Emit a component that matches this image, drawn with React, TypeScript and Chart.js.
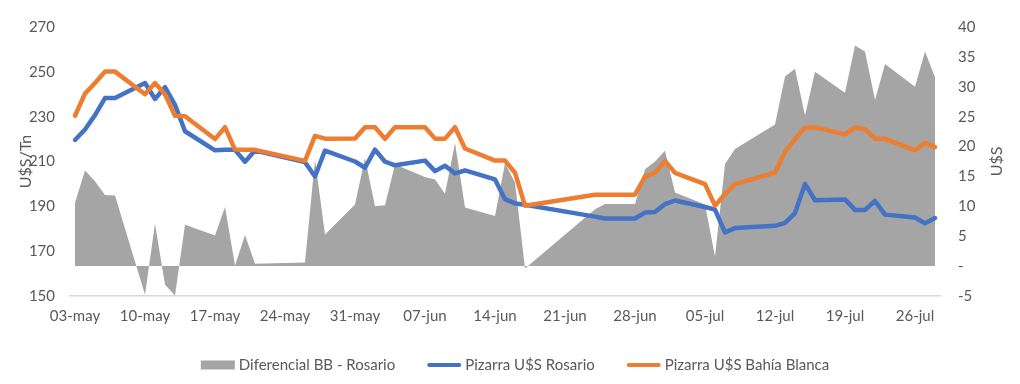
import { useEffect, useRef } from "react";
import { Chart, registerables } from "chart.js";

Chart.register(...registerables);

// Trading days (2021)
const DATES = [
  "2021-05-03", "2021-05-04", "2021-05-05", "2021-05-06", "2021-05-07",
  "2021-05-10", "2021-05-11", "2021-05-12", "2021-05-13", "2021-05-14",
  "2021-05-17", "2021-05-18", "2021-05-19", "2021-05-20", "2021-05-21",
  "2021-05-26", "2021-05-27", "2021-05-28",
  "2021-05-31", "2021-06-01", "2021-06-02", "2021-06-03", "2021-06-04",
  "2021-06-07", "2021-06-08", "2021-06-09", "2021-06-10", "2021-06-11",
  "2021-06-14", "2021-06-15", "2021-06-16", "2021-06-17",
  "2021-06-24", "2021-06-25",
  "2021-06-28", "2021-06-29", "2021-06-30", "2021-07-01", "2021-07-02",
  "2021-07-05", "2021-07-06", "2021-07-07", "2021-07-08",
  "2021-07-12", "2021-07-13", "2021-07-14", "2021-07-15", "2021-07-16",
  "2021-07-19", "2021-07-20", "2021-07-21", "2021-07-22", "2021-07-23",
  "2021-07-26", "2021-07-27", "2021-07-28",
];

const PIZARRA_ROSARIO = [
  219.6, 224.3, 230.7, 238.3, 238.3,
  245.0, 237.9, 243.2, 235.3, 223.5,
  215.0, 215.2, 215.2, 209.9, 214.9,
  209.7, 203.3, 214.9,
  210.0, 207.2, 215.3, 209.9, 208.3,
  210.4, 205.7, 208.1, 204.7, 206.0,
  202.0, 193.2, 191.3, 190.7,
  185.4, 184.6,
  184.6, 187.2, 187.5, 191.0, 192.6,
  189.7, 188.5, 178.4, 180.3,
  181.3, 182.6, 187.0, 200.0, 192.7,
  193.1, 188.4, 188.4, 192.4, 186.3,
  185.0, 182.4, 184.8,
];

const PIZARRA_BAHIA_BLANCA = [
  230.4, 240.3, 245.0, 250.1, 250.1,
  240.0, 245.0, 240.0, 230.4, 230.2,
  220.0, 225.3, 215.3, 215.2, 215.2,
  210.3, 221.4, 220.2,
  220.3, 225.3, 225.3, 220.1, 225.3,
  225.3, 220.2, 220.2, 225.3, 215.8,
  210.4, 210.4, 205.0, 190.3,
  195.2, 195.2,
  195.2, 203.3, 204.9, 210.3, 204.9,
  199.9, 190.3, 195.5, 199.9,
  205.0, 214.3, 220.0, 225.2, 225.2,
  222.1, 225.3, 224.3, 220.2, 220.1,
  215.0, 218.3, 216.4,
];

const DIFERENCIAL_BB_ROSARIO = [
  10.6, 16.0, 14.2, 11.9, 11.8,
  -4.8, 7.1, -3.1, -4.9, 6.9,
  5.1, 9.9, 0.1, 5.2, 0.4,
  0.6, 17.8, 5.3,
  10.3, 18.1, 10.0, 10.2, 17.0,
  14.9, 14.5, 12.1, 20.6, 9.8,
  8.4, 17.2, 14.0, -0.4,
  9.5, 10.4,
  10.4, 16.2, 17.5, 19.3, 12.3,
  10.3, 1.6, 17.1, 19.6,
  23.7, 31.7, 33.0, 25.2, 32.5,
  29.0, 36.9, 35.9, 27.8, 33.8,
  30.0, 35.9, 31.6,
];

const TICK_DATES = [
  "2021-05-03", "2021-05-10", "2021-05-17", "2021-05-24", "2021-05-31",
  "2021-06-07", "2021-06-14", "2021-06-21", "2021-06-28", "2021-07-05",
  "2021-07-12", "2021-07-19", "2021-07-26",
];
const TICK_LABELS = [
  "03-may", "10-may", "17-may", "24-may", "31-may",
  "07-jun", "14-jun", "21-jun", "28-jun", "05-jul",
  "12-jul", "19-jul", "26-jul",
];

const SERIES_NAMES = ["Diferencial BB - Rosario", "Pizarra U$S Rosario", "Pizarra U$S Bahía Blanca"];
const COLORS = { area: "#A5A5A5", rosario: "#4472C4", bahia: "#ED7D31", text: "#595959", axis: "#D9D9D9" };
const FONT_FAMILY = "Lato, 'Liberation Sans', sans-serif";
const FONT_SIZE = 15;
const TITLE_SIZE = 16;

const DAY = 86400000;
const dayIndex = (d: string) => Math.round((Date.parse(d) - Date.parse(DATES[0])) / DAY);
const points = (vals: number[]) => DATES.map((d, i) => ({ x: dayIndex(d), y: vals[i] }));

const overlayPlugin = {
  id: "overlay",
  afterDraw(chart: any) {
    const ctx = chart.ctx as CanvasRenderingContext2D;
    const area = chart.chartArea;
    ctx.save();
    ctx.font = `${TITLE_SIZE}px ${FONT_FAMILY}`;
    ctx.fillStyle = COLORS.text;
    ctx.textAlign = "center";
    ctx.textBaseline = "middle";
    const midY = (area.top + area.bottom) / 2;
    // axis titles
    ctx.save();
    ctx.translate(26, midY);
    ctx.rotate(-Math.PI / 2);
    ctx.fillText("U$S/Tn", 0, 0);
    ctx.restore();
    ctx.save();
    ctx.translate(997, midY);
    ctx.rotate(-Math.PI / 2);
    ctx.fillText("U$S", 0, 0);
    ctx.restore();

    // legend
    ctx.font = `${FONT_SIZE}px ${FONT_FAMILY}`;
    const swatch = 34;
    const gap = 4;
    const spacing = 32;
    const kinds = ["box", "line", "line"];
    const cols = [COLORS.area, COLORS.rosario, COLORS.bahia];
    const widths = SERIES_NAMES.map((n) => swatch + gap + ctx.measureText(n).width);
    const total = widths.reduce((a, b) => a + b, 0) + spacing * (widths.length - 1);
    let x = 515 - total / 2;
    const y = 365;
    ctx.textAlign = "left";
    SERIES_NAMES.forEach((name, i) => {
      if (kinds[i] === "box") {
        ctx.fillStyle = cols[i];
        ctx.fillRect(x, y - 4.5, swatch, 9);
      } else {
        ctx.strokeStyle = cols[i];
        ctx.lineWidth = 4;
        ctx.lineCap = "round";
        ctx.beginPath();
        ctx.moveTo(x + 2, y);
        ctx.lineTo(x + swatch - 2, y);
        ctx.stroke();
      }
      ctx.fillStyle = COLORS.text;
      ctx.fillText(name, x + swatch + gap, y);
      x += widths[i] + spacing;
    });
    ctx.restore();
  },
};

export default function App() {
  const ref = useRef<HTMLCanvasElement>(null);
  useEffect(() => {
    document.body.style.margin = "0";
    const lastDay = dayIndex(DATES[DATES.length - 1]);
    const tickFont = { family: FONT_FAMILY, size: FONT_SIZE };
    const chart = new Chart(ref.current as HTMLCanvasElement, {
      type: "line",
      data: {
        datasets: [
          {
            label: SERIES_NAMES[0],
            data: points(DIFERENCIAL_BB_ROSARIO),
            yAxisID: "y1",
            backgroundColor: COLORS.area,
            borderColor: COLORS.area,
            borderWidth: 0,
            fill: "origin",
            pointRadius: 0,
            order: 2,
          },
          {
            label: SERIES_NAMES[1],
            data: points(PIZARRA_ROSARIO),
            yAxisID: "y",
            borderColor: COLORS.rosario,
            backgroundColor: COLORS.rosario,
            borderWidth: 4.5,
            borderJoinStyle: "round",
            borderCapStyle: "round",
            fill: false,
            pointRadius: 0,
            order: 1,
          },
          {
            label: SERIES_NAMES[2],
            data: points(PIZARRA_BAHIA_BLANCA),
            yAxisID: "y",
            borderColor: COLORS.bahia,
            backgroundColor: COLORS.bahia,
            borderWidth: 4.5,
            borderJoinStyle: "round",
            borderCapStyle: "round",
            fill: false,
            pointRadius: 0,
            order: 0,
          },
        ],
      },
      options: {
        animation: false,
        responsive: false,
        layout: { padding: { top: 17, left: 0, right: 0, bottom: 0 } },
        elements: { line: { tension: 0 } },
        plugins: { legend: { display: false }, tooltip: { enabled: false } },
        scales: {
          x: {
            type: "linear",
            min: -0.5,
            max: lastDay + 0.5,
            grid: { display: false, drawTicks: false },
            border: { display: true, color: COLORS.axis, width: 1.5 },
            ticks: {
              autoSkip: false,
              maxRotation: 0,
              padding: 11,
              color: COLORS.text,
              font: tickFont,
              callback: (_v: any, i: number) => TICK_LABELS[i],
            },
            afterBuildTicks: (s: any) => {
              s.ticks = TICK_DATES.map((d) => ({ value: dayIndex(d) }));
            },
            afterFit: (s: any) => {
              s.height = 88;
            },
          },
          y: {
            position: "left",
            min: 150,
            max: 270,
            grid: { display: false, drawTicks: false },
            border: { display: false },
            ticks: { stepSize: 20, padding: 15, color: COLORS.text, font: tickFont },
            afterFit: (s: any) => {
              s.width = 70;
            },
          },
          y1: {
            position: "right",
            min: -5,
            max: 40,
            grid: { display: false, drawTicks: false },
            border: { display: false },
            ticks: {
              stepSize: 5,
              padding: 18,
              color: COLORS.text,
              font: tickFont,
              callback: (v: any) => (v === 0 ? "-" : String(v)),
            },
            afterFit: (s: any) => {
              s.width = 80;
            },
          },
        },
      } as any,
      plugins: [overlayPlugin],
    });
    return () => chart.destroy();
  }, []);
  return (
    <div style={{ width: 1020, height: 384, background: "#fff" }}>
      <canvas ref={ref} width={1020} height={384} style={{ display: "block" }} />
    </div>
  );
}
